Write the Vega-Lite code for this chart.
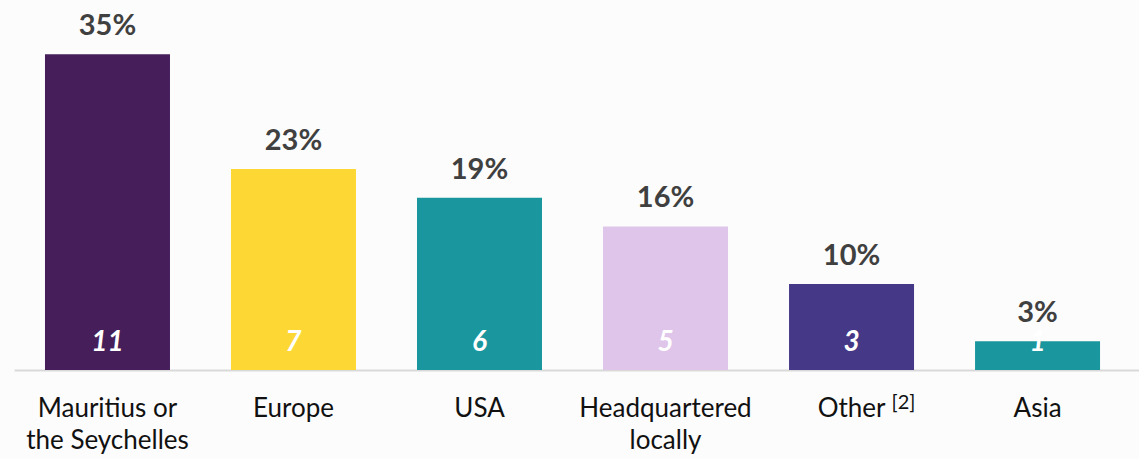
{
  "$schema": "https://vega.github.io/schema/vega-lite/v6.json",
  "width": 1125,
  "height": 370,
  "autosize": {"type": "none"},
  "padding": {"left": 14, "top": 0, "right": 0, "bottom": 89},
  "background": "#fcfcfc",
  "config": {"view": {"stroke": null}, "font": "Lato"},
  "data": {
    "values": [
      {"region": "Mauritius or|the Seychelles", "count": 11, "pct": "35%", "color": "#461F5A"},
      {"region": "Europe", "count": 7, "pct": "23%", "color": "#FDD835"},
      {"region": "USA", "count": 6, "pct": "19%", "color": "#1A979E"},
      {"region": "Headquartered|locally", "count": 5, "pct": "16%", "color": "#DFC5EA"},
      {"region": "Other", "count": 3, "pct": "10%", "color": "#453987"},
      {"region": "Asia", "count": 1, "pct": "3%", "color": "#1A979E"}
    ]
  },
  "encoding": {
    "x": {
      "field": "region", "type": "nominal", "sort": null,
      "scale": {"paddingInner": 0.328, "paddingOuter": 0.188, "align": 0.443},
      "axis": {
        "title": null, "labelAngle": 0, "labelExpr": "split(datum.label, '|')",
        "labelFont": "Lato", "labelFontSize": 26, "labelColor": "#111111",
        "labelLineHeight": 32, "labelPadding": 25, "labelBaseline": "top",
        "ticks": false, "domainColor": "#d9d9d9", "domainWidth": 2
      }
    }
  },
  "layer": [
    {
      "mark": {"type": "bar"},
      "encoding": {
        "y": {"field": "count", "type": "quantitative", "scale": {"domain": [0, 12.89], "nice": false}, "axis": null},
        "color": {"field": "color", "type": "nominal", "scale": null}
      }
    },
    {
      "mark": {"type": "text", "baseline": "alphabetic", "dy": -19, "fontSize": 29, "fontWeight": "bold", "color": "#404040"},
      "encoding": {
        "y": {"field": "count", "type": "quantitative"},
        "text": {"field": "pct"}
      }
    },
    {
      "mark": {"type": "text", "baseline": "alphabetic", "dy": -19, "fontSize": 28, "fontWeight": "bold", "fontStyle": "italic", "color": "#ffffff"},
      "encoding": {
        "y": {"datum": 0, "type": "quantitative"},
        "text": {"field": "count", "type": "quantitative"}
      }
    },
    {
      "transform": [{"filter": "datum.region == 'Other'"}],
      "mark": {"type": "text", "baseline": "alphabetic", "dx": 52, "dy": 39, "fontSize": 20, "color": "#111111", "text": "[2]"},
      "encoding": {
        "y": {"datum": 0, "type": "quantitative"}
      }
    }
  ]
}
